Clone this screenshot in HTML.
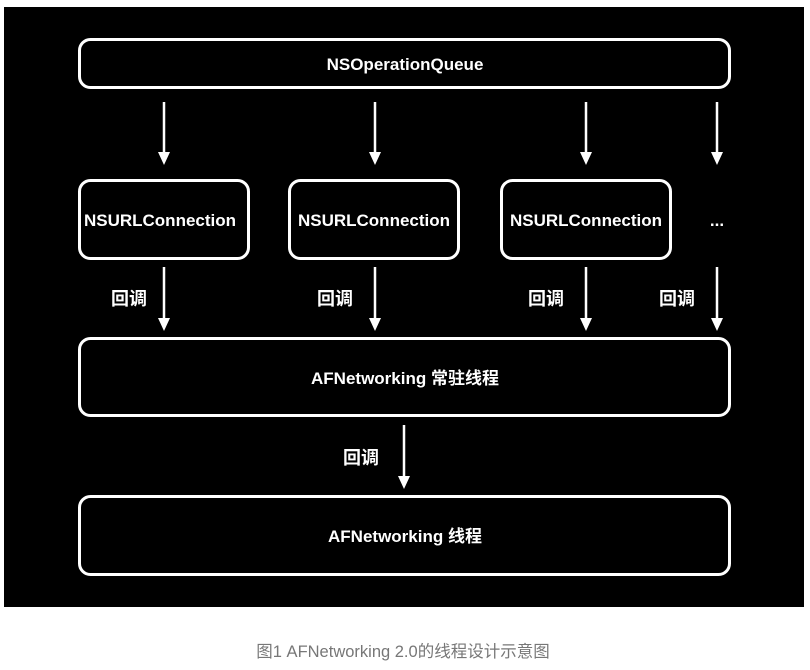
<!DOCTYPE html>
<html><head><meta charset="utf-8"><style>
html,body{margin:0;padding:0;background:#fff;width:810px;height:670px;overflow:hidden}
svg text{font-family:"Liberation Sans","Noto Sans CJK SC",sans-serif}
</style></head><body>
<svg width="810" height="670" xmlns="http://www.w3.org/2000/svg">
<rect x="4" y="7" width="800" height="600" fill="#000"/>
<g fill="none" stroke="#fff" stroke-width="3">
<rect x="79.5" y="39.5" width="650" height="48" rx="11"/>
<rect x="79.5" y="180.5" width="169" height="78" rx="11"/>
<rect x="289.5" y="180.5" width="169" height="78" rx="11"/>
<rect x="501.5" y="180.5" width="169" height="78" rx="11"/>
<rect x="79.5" y="338.5" width="650" height="77" rx="11"/>
<rect x="79.5" y="496.5" width="650" height="78" rx="11"/>
</g>
<g stroke="#fff" stroke-width="2.5">
<line x1="164" y1="102" x2="164" y2="153"/><path d="M158,152 L170,152 L164,165Z" fill="#fff" stroke="none"/>
<line x1="375" y1="102" x2="375" y2="153"/><path d="M369,152 L381,152 L375,165Z" fill="#fff" stroke="none"/>
<line x1="586" y1="102" x2="586" y2="153"/><path d="M580,152 L592,152 L586,165Z" fill="#fff" stroke="none"/>
<line x1="717" y1="102" x2="717" y2="153"/><path d="M711,152 L723,152 L717,165Z" fill="#fff" stroke="none"/>
<line x1="164" y1="267" x2="164" y2="319"/><path d="M158,318 L170,318 L164,331Z" fill="#fff" stroke="none"/>
<line x1="375" y1="267" x2="375" y2="319"/><path d="M369,318 L381,318 L375,331Z" fill="#fff" stroke="none"/>
<line x1="586" y1="267" x2="586" y2="319"/><path d="M580,318 L592,318 L586,331Z" fill="#fff" stroke="none"/>
<line x1="717" y1="267" x2="717" y2="319"/><path d="M711,318 L723,318 L717,331Z" fill="#fff" stroke="none"/>
<line x1="404" y1="425" x2="404" y2="477"/><path d="M398,476 L410,476 L404,489Z" fill="#fff" stroke="none"/>
</g>
<g fill="#fff" font-size="17" font-weight="bold" text-anchor="middle">
<text x="405" y="70">NSOperationQueue</text>
<text x="160" y="226">NSURLConnection</text>
<text x="374" y="226">NSURLConnection</text>
<text x="586" y="226">NSURLConnection</text>
<text x="717" y="226">...</text>
<text x="129" y="305" font-size="18">回调</text>
<text x="335" y="305" font-size="18">回调</text>
<text x="546" y="305" font-size="18">回调</text>
<text x="677" y="305" font-size="18">回调</text>
<text x="361" y="464" font-size="18">回调</text>
<text x="405" y="384">AFNetworking 常驻线程</text>
<text x="405" y="542">AFNetworking 线程</text>
</g>
<text x="403" y="657" font-size="16.5" fill="#777" text-anchor="middle">图1 AFNetworking 2.0的线程设计示意图</text>
</svg>
</body></html>
